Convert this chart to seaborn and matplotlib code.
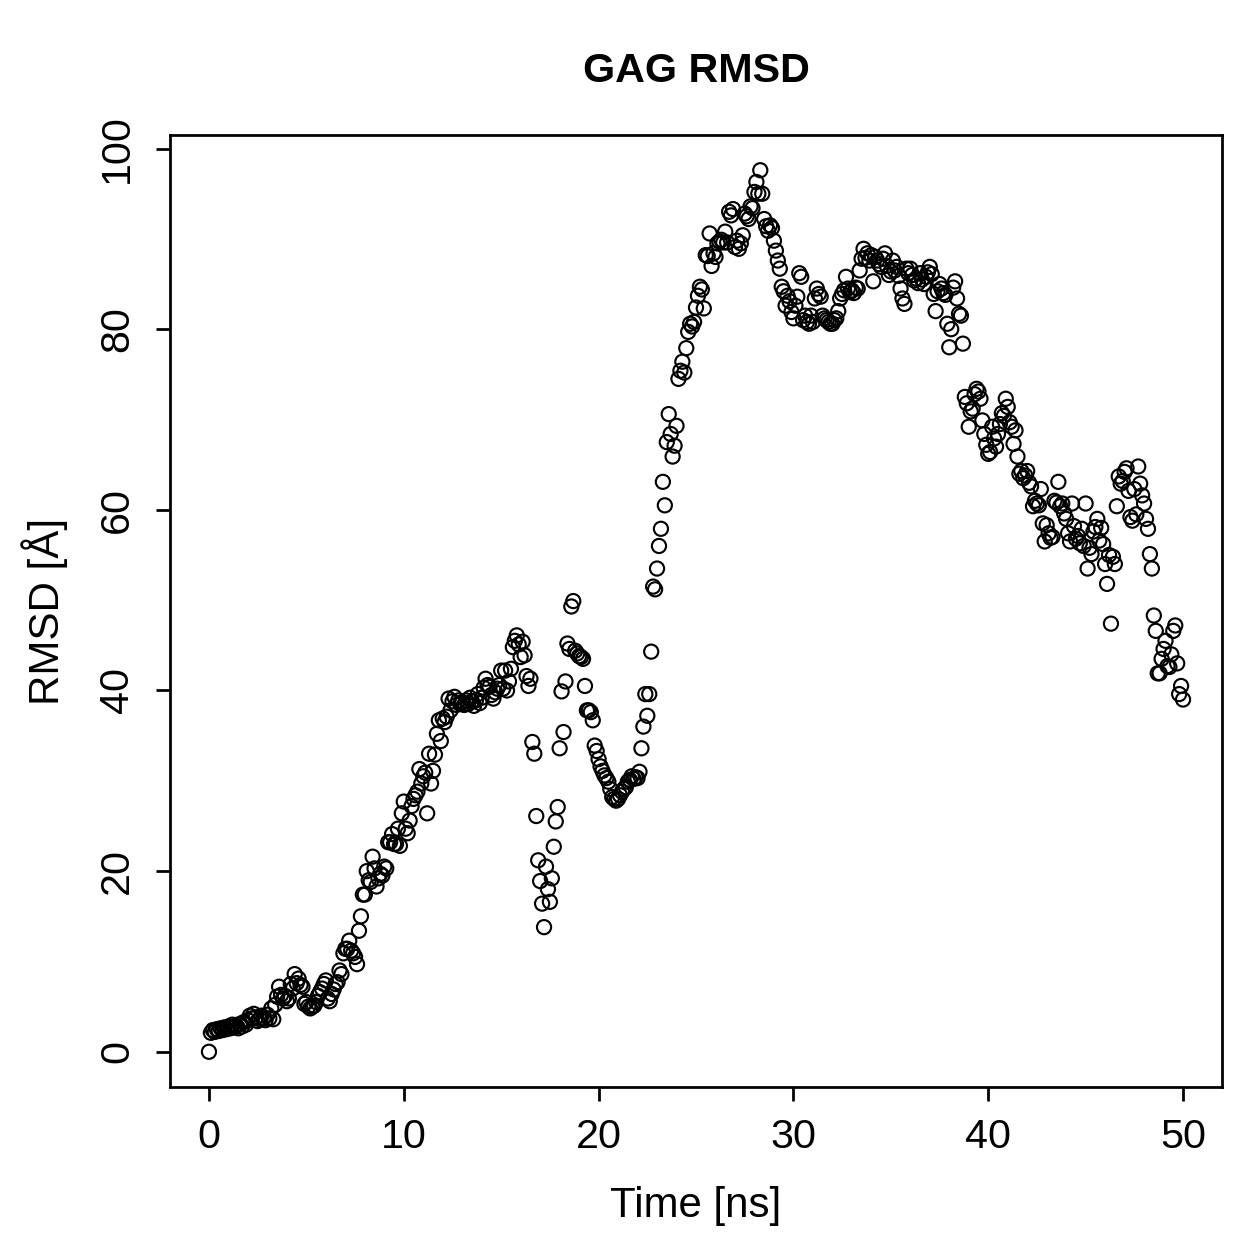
import numpy as np
import pandas as pd
import matplotlib
matplotlib.use("Agg")
import matplotlib.pyplot as plt
import seaborn as sns

title = "GAG RMSD"
xlabel = "Time [ns]"
ylabel = "RMSD [Å]"
x_ticks = [0, 10, 20, 30, 40, 50]
y_ticks = [0, 20, 40, 60, 80, 100]

# RMSD values, one per 0.1 ns frame (rows = 1 ns each)
rmsd_00 = [0.0, 2.1, 2.4, 2.2, 2.5, 2.3, 2.6, 2.4, 2.7, 2.5]
rmsd_01 = [2.8, 2.6, 3.0, 2.7, 2.9, 2.6, 3.1, 2.8, 3.3, 3.0]
rmsd_02 = [3.5, 4.0, 3.7, 4.2, 3.8, 3.4, 3.6, 4.0, 3.7, 3.5]
rmsd_03 = [4.1, 3.7, 4.8, 3.6, 5.2, 6.1, 7.2, 6.3, 5.9, 6.2]
rmsd_04 = [5.6, 5.9, 7.5, 7.0, 8.6, 7.6, 8.1, 7.4, 7.2, 5.3]
rmsd_05 = [5.5, 5.0, 4.8, 5.0, 5.1, 5.5, 6.2, 6.6, 7.0, 7.5]
rmsd_06 = [7.9, 5.9, 5.6, 6.4, 6.9, 7.5, 7.7, 9.0, 8.6, 10.9]
rmsd_07 = [11.4, 11.4, 12.3, 11.2, 10.9, 10.5, 9.7, 13.4, 15.0, 17.4]
rmsd_08 = [17.4, 20.0, 19.0, 18.8, 21.6, 20.3, 18.3, 19.2, 19.7, 19.5]
rmsd_09 = [20.5, 20.3, 23.2, 23.2, 24.1, 23.0, 23.0, 24.7, 22.8, 26.4]
rmsd_10 = [27.7, 24.7, 24.2, 25.6, 27.2, 28.0, 28.4, 28.8, 31.3, 29.7]
rmsd_11 = [30.5, 30.9, 26.4, 33.0, 29.7, 31.1, 32.9, 35.2, 36.7, 34.4]
rmsd_12 = [36.9, 36.5, 37.1, 39.1, 37.8, 38.8, 39.3, 38.4, 38.9, 38.5]
rmsd_13 = [38.7, 38.4, 38.9, 38.5, 39.2, 38.8, 38.3, 38.9, 39.6, 38.6]
rmsd_14 = [39.2, 40.3, 41.3, 40.6, 40.4, 39.5, 39.1, 39.8, 40.2, 40.6]
rmsd_15 = [42.2, 40.2, 42.2, 40.0, 41.0, 42.4, 44.8, 45.5, 46.1, 45.1]
rmsd_16 = [43.7, 45.4, 43.9, 41.6, 40.5, 41.3, 34.3, 33.0, 26.1, 21.2]
rmsd_17 = [18.9, 16.4, 13.8, 20.5, 18.0, 16.6, 19.2, 22.7, 25.5, 27.1]
rmsd_18 = [33.6, 39.9, 35.4, 41.0, 45.2, 44.6, 49.3, 49.9, 44.4, 44.1]
rmsd_19 = [43.8, 43.7, 43.5, 40.5, 37.8, 37.8, 37.6, 36.7, 33.9, 33.3]
rmsd_20 = [32.4, 31.6, 31.1, 30.6, 30.3, 29.9, 29.1, 28.2, 28.0, 27.8]
rmsd_21 = [28.0, 28.4, 28.8, 29.1, 29.3, 29.9, 30.1, 30.5, 30.2, 30.4]
rmsd_22 = [30.3, 31.0, 33.6, 36.0, 39.6, 37.2, 39.6, 44.3, 51.5, 51.2]
rmsd_23 = [53.5, 56.0, 57.9, 63.1, 60.5, 67.5, 70.6, 68.4, 65.9, 67.1]
rmsd_24 = [69.3, 74.5, 75.4, 76.4, 75.2, 77.9, 79.7, 80.6, 80.3, 80.8]
rmsd_25 = [82.4, 83.7, 84.7, 84.4, 82.3, 88.2, 88.1, 90.6, 87.0, 88.4]
rmsd_26 = [88.0, 89.5, 89.7, 89.9, 89.6, 90.8, 89.6, 93.0, 92.6, 93.3]
rmsd_27 = [89.1, 89.8, 88.9, 89.5, 90.4, 92.8, 92.5, 92.2, 93.6, 93.4]
rmsd_28 = [95.2, 96.3, 95.0, 97.6, 95.0, 92.2, 91.4, 90.9, 91.5, 91.2]
rmsd_29 = [89.8, 88.7, 87.6, 86.7, 84.7, 84.2, 82.6, 83.7, 83.1, 81.9]
rmsd_30 = [81.2, 82.6, 83.6, 86.2, 85.8, 81.0, 81.5, 80.8, 80.6, 81.5]
rmsd_31 = [80.8, 83.4, 84.5, 83.9, 83.6, 81.5, 81.2, 81.0, 80.8, 80.6]
rmsd_32 = [80.6, 81.0, 81.2, 82.0, 83.4, 83.9, 84.3, 85.8, 84.5, 84.1]
rmsd_33 = [84.3, 84.0, 84.6, 84.5, 86.5, 87.8, 88.9, 87.9, 88.4, 87.6]
rmsd_34 = [88.2, 85.3, 88.0, 87.6, 87.2, 86.9, 87.8, 88.4, 87.0, 86.0]
rmsd_35 = [86.4, 87.6, 86.5, 86.9, 85.9, 84.5, 83.4, 82.8, 86.7, 86.2]
rmsd_36 = [86.7, 86.0, 85.4, 85.6, 85.1, 86.2, 85.5, 85.0, 85.8, 86.3]
rmsd_37 = [86.9, 86.1, 83.9, 82.0, 84.2, 85.0, 84.5, 84.0, 83.8, 80.6]
rmsd_38 = [78.0, 80.0, 84.6, 85.3, 83.4, 81.7, 81.5, 78.4, 72.5, 71.8]
rmsd_39 = [69.2, 70.9, 71.2, 72.8, 73.4, 73.1, 72.3, 69.9, 68.4, 67.2]
rmsd_40 = [66.2, 66.4, 69.2, 67.9, 67.0, 68.4, 69.5, 70.7, 70.4, 72.3]
rmsd_41 = [71.4, 69.7, 69.2, 67.3, 68.8, 65.9, 64.0, 64.3, 63.5, 63.8]
rmsd_42 = [64.3, 63.0, 62.6, 60.4, 61.0, 60.7, 60.5, 62.3, 58.5, 56.5]
rmsd_43 = [58.3, 57.4, 56.9, 57.0, 61.0, 60.8, 63.1, 60.4, 60.7, 59.6]
rmsd_44 = [59.0, 57.4, 56.5, 60.7, 58.2, 56.8, 57.1, 56.3, 57.9, 56.0]
rmsd_45 = [60.7, 53.5, 55.8, 55.1, 57.6, 58.1, 59.0, 56.6, 58.0, 56.2]
rmsd_46 = [54.0, 51.8, 55.0, 47.4, 54.8, 54.0, 60.4, 63.7, 62.9, 63.2]
rmsd_47 = [64.2, 64.6, 62.1, 59.2, 58.8, 62.3, 59.5, 64.8, 62.9, 61.6]
rmsd_48 = [60.7, 59.0, 57.9, 55.1, 53.5, 48.3, 46.6, 41.9, 41.9, 43.5]
rmsd_49 = [44.6, 45.5, 42.7, 42.6, 44.0, 46.6, 47.2, 43.0, 39.6, 40.5]
rmsd_50 = [39.0]

rmsd_rows = [rmsd_00, rmsd_01, rmsd_02, rmsd_03, rmsd_04, rmsd_05, rmsd_06, rmsd_07,
             rmsd_08, rmsd_09, rmsd_10, rmsd_11, rmsd_12, rmsd_13, rmsd_14, rmsd_15,
             rmsd_16, rmsd_17, rmsd_18, rmsd_19, rmsd_20, rmsd_21, rmsd_22, rmsd_23,
             rmsd_24, rmsd_25, rmsd_26, rmsd_27, rmsd_28, rmsd_29, rmsd_30, rmsd_31,
             rmsd_32, rmsd_33, rmsd_34, rmsd_35, rmsd_36, rmsd_37, rmsd_38, rmsd_39,
             rmsd_40, rmsd_41, rmsd_42, rmsd_43, rmsd_44, rmsd_45, rmsd_46, rmsd_47,
             rmsd_48, rmsd_49, rmsd_50]
rmsd = [v for row in rmsd_rows for v in row]
# frame times: one frame every 0.1 ns
time_ns = np.round(np.arange(len(rmsd)) * 0.1, 1)

df = pd.DataFrame({"time": time_ns, "rmsd": rmsd})

sns.set_theme(style="ticks")
plt.rcParams['font.family'] = ['Liberation Sans', 'DejaVu Sans']
plt.rcParams['text.color'] = 'black'
plt.rcParams['axes.labelcolor'] = 'black'
plt.rcParams['xtick.color'] = 'black'
plt.rcParams['ytick.color'] = 'black'
plt.rcParams['axes.linewidth'] = 1.1

W = 1259
dpi = 180
fig = plt.figure(figsize=(W / dpi, W / dpi), dpi=dpi)
ax = fig.add_axes([170 / W, 1 - 1087 / W, (1222 - 170) / W, (1087 - 135) / W])

sns.scatterplot(data=df, x="time", y="rmsd", ax=ax, marker="o", s=32,
                facecolors="none", edgecolor="black", linewidth=0.85, legend=False)

ax.set_xlim(-2, 52)
ax.set_ylim(-3.9, 101.5)
ax.set_xticks(x_ticks)
ax.set_yticks(y_ticks)
ax.set_xticklabels([str(t) for t in x_ticks])
ax.set_yticklabels([str(t) for t in y_ticks], rotation=90, va="center")
ax.tick_params(axis="both", direction="out", length=5.5, width=1.1,
               labelsize=16.5, colors="black", labelcolor="black", pad=7)
ax.tick_params(axis="y", pad=8)
for sp in ax.spines.values():
    sp.set_visible(True)
    sp.set_color("black")
    sp.set_linewidth(1.1)

ax.set_xlabel(xlabel, fontsize=16.8, labelpad=12, color="black")
ax.set_ylabel(ylabel, fontsize=16.8, labelpad=12, color="black")
ax.set_title(title, fontsize=16.5, fontweight="bold", pad=21, color="black")

fig.savefig("out.png", dpi=dpi, facecolor="white")
